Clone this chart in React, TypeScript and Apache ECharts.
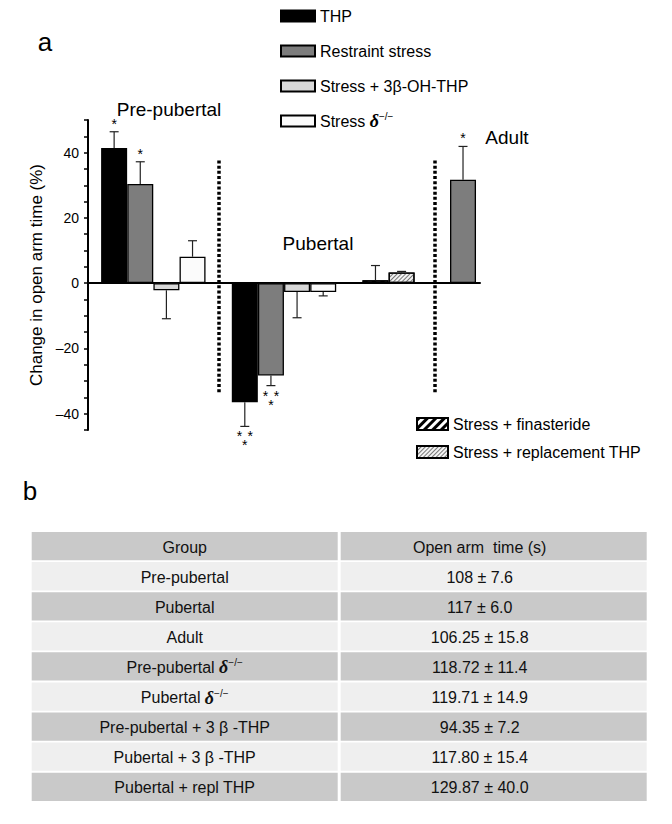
import React, { useEffect, useRef } from 'react';
import * as echarts from 'echarts';

// ---------- data ----------
const groups = ['Pre-pubertal', 'Pubertal', 'Adult'];
const seriesNames = ['THP', 'Restraint stress', 'Stress + 3β-OH-THP', 'Stress δ−/−', 'Stress + finasteride', 'Stress + replacement THP'];
const thpMean = [41.4, -36.5, null];
const thpSem = [5.0, 7.4, null];
const restraintMean = [30.4, -28.3, 31.7];
const restraintSem = [6.8, 3.1, 10.2];
const betaMean = [-2.2, -2.7, null];
const betaSem = [8.7, 7.9, null];
const deltaMean = [8.1, -2.7, null];
const deltaSem = [4.9, 1.2, null];
const finMean = [null, 0.9, null];
const finSem = [null, 4.5, null];
const replMean = [null, 3.3, null];
const replSem = [null, 0.3, null];
const thpSig = ['*', '***', ''];
const restraintSig = ['*', '***', '*'];
const yLabelTicks = [-40, -20, 0, 20, 40];

const tableHeader = ['Group', 'Open arm  time (s)'];
const tableGroups = ['Pre-pubertal', 'Pubertal', 'Adult', 'Pre-pubertal δ−/−', 'Pubertal δ−/−', 'Pre-pubertal + 3 β -THP', 'Pubertal + 3 β -THP', 'Pubertal + repl THP'];
const tableMean = ['108', '117', '106.25', '118.72', '119.71', '94.35', '117.80', '129.87'];
const tableSem = ['7.6', '6.0', '15.8', '11.4', '14.9', '7.2', '15.4', '40.0'];

// ---------- layout (slot positions on the x scale, not data) ----------
const SLOT_X = [
  [1, 6, null],
  [2, 7, 14.35],
  [3, 8, null],
  [4, 9, null],
  [null, 11, null],
  [null, 12, null],
];
const SEPARATOR_X = [5, 13.25];
const SEPARATOR_Y = [37.6, -34];

const FONT = '"Liberation Sans", Arial, Helvetica, sans-serif';
const SERIF = '"Liberation Serif", "DejaVu Serif", serif';

const means = [thpMean, restraintMean, betaMean, deltaMean, finMean, replMean];
const sems = [thpSem, restraintSem, betaSem, deltaSem, finSem, replSem];
const sigs = [thpSig, restraintSig, ['', '', ''], ['', '', ''], ['', '', ''], ['', '', '']];

const barStyles: any[] = [
  { color: '#000000' },
  { color: '#7d7d7d' },
  { color: '#d8d8d8' },
  { color: '#fbfbfb' },
  {
    color: '#ffffff',
    decal: { symbol: 'rect', symbolSize: 1, dashArrayX: [1, 0], dashArrayY: [2.5, 2.5], rotation: -Math.PI / 4, color: '#000' },
  },
  {
    color: '#f4f4f4',
    decal: { symbol: 'rect', symbolSize: 1, dashArrayX: [1, 0], dashArrayY: [1, 1.6], rotation: -Math.PI / 4, color: '#777' },
  },
];

const richDelta = {
  d: { fontFamily: SERIF, fontStyle: 'italic', fontWeight: 'bold', fontSize: 18, color: '#000' },
  s: { fontFamily: FONT, fontSize: 10, fontWeight: 'normal', color: '#000', padding: [0, 0, 9, 0] },
};
const deltaFmt = (s: string) => s.replace('δ−/−', '{d|δ}{s|−/−}');

// "***" means two stars on top, one centred below
const sigFmt = (s: string) => (s === '***' ? '{t|*}{b|*}{t|*}' : s);
const richSig = {
  t: { fontSize: 14, fontFamily: FONT, padding: [0, 0, 9, 0] },
  b: { fontSize: 14, fontFamily: FONT, padding: [9, 0, 0, 0] },
};

const legendText = { fontSize: 16, fontWeight: 'normal', color: '#000', fontFamily: FONT, lineHeight: 20, textBorderWidth: 0 };

function buildOption() {
  const barSeries = seriesNames.map((name, i) => ({
    name,
    type: 'bar',
    barWidth: 26,
    barGap: '-100%',
    itemStyle: { ...barStyles[i], borderColor: '#000', borderWidth: 1.3 },
    emphasis: { disabled: true },
    data: groups
      .map((_, j) => (means[i][j] == null ? null : [SLOT_X[i][j], means[i][j]]))
      .filter((d) => d !== null),
    z: 2,
    markLine:
      i === 0
        ? {
            silent: true,
            symbol: ['none', 'none'],
            label: { show: false },
            lineStyle: { color: '#000', width: 3.5, type: [3, 2.2], cap: 'butt' },
            data: SEPARATOR_X.map((x) => [{ coord: [x, SEPARATOR_Y[0]] }, { coord: [x, SEPARATOR_Y[1]] }]),
          }
        : undefined,
  }));

  const errItems: any[] = [];
  seriesNames.forEach((_, i) => {
    groups.forEach((_, j) => {
      if (means[i][j] != null) {
        errItems.push({ value: [SLOT_X[i][j], means[i][j], sems[i][j]], sig: sigs[i][j] });
      }
    });
  });

  const errorSeries = {
    type: 'custom',
    z: 5,
    silent: true,
    data: errItems.map((d) => d.value),
    renderItem: (params: any, api: any) => {
      const x = api.value(0);
      const m = api.value(1);
      const e = api.value(2);
      const end = m >= 0 ? m + e : m - e;
      const p0 = api.coord([x, m]);
      const p1 = api.coord([x, end]);
      const stroke = { stroke: '#222', lineWidth: 1.2 };
      const children: any[] = [
        { type: 'line', shape: { x1: p0[0], y1: p0[1], x2: p1[0], y2: p1[1] }, style: stroke },
        { type: 'line', shape: { x1: p1[0] - 4.5, y1: p1[1], x2: p1[0] + 4.5, y2: p1[1] }, style: stroke },
      ];
      const sig = errItems[params.dataIndex].sig;
      if (sig) {
        children.push({
          type: 'text',
          x: p1[0],
          y: m >= 0 ? p1[1] - 1 : p1[1] + 3,
          style: {
            text: sigFmt(sig),
            rich: richSig,
            align: 'center',
            verticalAlign: m >= 0 ? 'bottom' : 'top',
            fontSize: 14,
            fontFamily: FONT,
            fill: '#000',
          },
        });
      }
      return { type: 'group', children };
    },
  };

  const graphics: any[] = [
    { type: 'text', x: 45, y: 42, style: { text: 'a', fontSize: 26, fontFamily: FONT, fill: '#000', align: 'center', verticalAlign: 'middle' } },
    { type: 'text', x: 169, y: 109, style: { text: 'Pre-pubertal', fontSize: 19, fontFamily: FONT, fill: '#000', align: 'center', verticalAlign: 'middle' } },
    { type: 'text', x: 318, y: 243, style: { text: 'Pubertal', fontSize: 19, fontFamily: FONT, fill: '#000', align: 'center', verticalAlign: 'middle' } },
    { type: 'text', x: 507, y: 137, style: { text: 'Adult', fontSize: 19, fontFamily: FONT, fill: '#000', align: 'center', verticalAlign: 'middle' } },
    { type: 'text', x: 30, y: 491, style: { text: 'b', fontSize: 26, fontFamily: FONT, fill: '#000', align: 'center', verticalAlign: 'middle' } },
  ];

  // table
  const tTop = 532;
  const pitch = 30.08;
  const rowH = 28.3;
  const colX = [31.7, 340.7];
  const colW = 306;
  const rows = [tableHeader, ...tableGroups.map((g, k) => [g, `${tableMean[k]} ± ${tableSem[k]}`])];
  rows.forEach((row, r) => {
    const y = tTop + r * pitch;
    const fill = r % 2 === 0 ? '#c9c9c9' : '#efefef';
    row.forEach((cell, c) => {
      graphics.push({ type: 'rect', shape: { x: colX[c], y, width: colW, height: rowH }, style: { fill }, silent: true });
      graphics.push({
        type: 'text',
        x: colX[c] + colW / 2 - (c === 1 ? 14 : 0),
        y: y + rowH / 2 + 1,
        style: {
          text: deltaFmt(cell),
          rich: richDelta,
          fontSize: 16,
          fontWeight: 'normal',
          fontFamily: FONT,
          fill: '#111',
          align: 'center',
          verticalAlign: 'middle',
        },
        z: 10,
      });
    });
  });

  return {
    animation: false,
    backgroundColor: '#fff',
    textStyle: { fontFamily: FONT },
    grid: { left: 88, top: 120, width: 392, height: 310, containLabel: false },
    xAxis: {
      type: 'value',
      min: 0,
      max: 15,
      axisLine: { show: true, onZero: true, lineStyle: { color: '#000', width: 2 } },
      axisTick: { show: false },
      axisLabel: { show: false },
      splitLine: { show: false },
    },
    yAxis: {
      type: 'value',
      min: -45,
      max: 50,
      interval: 5,
      name: 'Change in open arm time (%)',
      nameLocation: 'middle',
      nameGap: 42,
      nameTextStyle: { fontSize: 17, color: '#000', fontFamily: FONT },
      axisLine: { show: true, lineStyle: { color: '#000', width: 2 } },
      axisTick: { show: true, length: 4, lineStyle: { color: '#000', width: 1.5 } },
      axisLabel: {
        fontSize: 14,
        color: '#000',
        fontFamily: FONT,
        margin: 9,
        formatter: (v: number) => (yLabelTicks.includes(v) ? (v < 0 ? '\u2013' + Math.abs(v) : String(v)) : ''),
      },
      splitLine: { show: false },
    },
    legend: [
      {
        orient: 'vertical',
        left: 275,
        top: 1,
        itemWidth: 34,
        itemHeight: 11,
        itemGap: 15,
        selectedMode: false,
        icon: 'rect',
        data: seriesNames.slice(0, 3),
        textStyle: legendText,
      },
      {
        orient: 'vertical',
        left: 275,
        top: 106,
        itemWidth: 34,
        itemHeight: 11,
        selectedMode: false,
        icon: 'rect',
        data: [seriesNames[3]],
        formatter: (n: string) => deltaFmt(n),
        textStyle: { ...legendText, rich: richDelta },
      },
      {
        orient: 'vertical',
        left: 411,
        top: 409,
        itemWidth: 31,
        itemHeight: 12,
        itemGap: 8,
        selectedMode: false,
        icon: 'rect',
        data: seriesNames.slice(4),
        textStyle: legendText,
      },
    ],
    series: [...barSeries, errorSeries],
    graphic: graphics,
  };
}

export default function App() {
  const ref = useRef<HTMLDivElement>(null);
  useEffect(() => {
    if (!ref.current) return;
    const chart = echarts.init(ref.current, null, { renderer: 'svg' });
    chart.setOption(buildOption() as any);
    return () => chart.dispose();
  }, []);
  return (
    <div
      ref={ref}
      style={{ position: 'fixed', left: 0, top: 0, width: 672, height: 824, background: '#fff' }}
    />
  );
}
